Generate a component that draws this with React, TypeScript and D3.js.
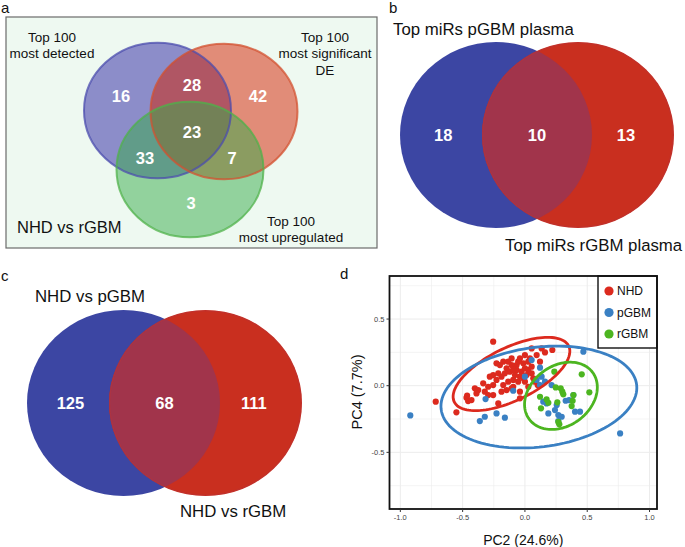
import React from "react";
import * as d3 from "d3";

// ---------- Panel a data ----------
const vennASetLabels: string[][] = [
  ["Top 100", "most detected"],
  ["Top 100", "most significant", "DE"],
  ["Top 100", "most upregulated"],
];
const vennATitle = "NHD vs rGBM";
// region counts: onlyA, onlyB, onlyC, AB, AC, BC, ABC
const vennACounts = [16, 42, 3, 28, 33, 7, 23];

// ---------- Panel b data ----------
const vennBSetLabels = ["Top miRs pGBM plasma", "Top miRs rGBM plasma"];
const vennBCounts = [18, 10, 13];

// ---------- Panel c data ----------
const vennCSetLabels = ["NHD vs pGBM", "NHD vs rGBM"];
const vennCCounts = [125, 68, 111];

// ---------- Panel d data (PCA) ----------
const groups = ["NHD", "pGBM", "rGBM"];
const groupColors = ["#dc2a1e", "#3a80c3", "#4cb520"];
const xTicks = [-1.0, -0.5, 0.0, 0.5, 1.0];
const yTicks = [-0.5, 0.0, 0.5];
const xLabel = "PC2 (24.6%)";
const yLabel = "PC4 (7.7%)";

const nhdPoints: [number, number][] = [
  [-0.716, -0.12], [-0.55, -0.2], [-0.469, -0.09], [-0.456, -0.115], [-0.464, -0.075],
  [-0.402, -0.02], [-0.375, -0.033], [-0.389, -0.058], [-0.335, 0.018], [-0.322, -0.045],
  [-0.295, -0.07], [-0.255, -0.07], [-0.255, 0.005], [-0.282, 0.068], [-0.255, 0.08],
  [-0.214, 0.093], [-0.188, 0.068], [-0.214, -0.133], [-0.255, 0.33], [-0.228, 0.168],
  [-0.174, 0.18], [-0.107, 0.205], [-0.04, 0.205], [-0.013, 0.168], [0.027, 0.18],
  [-0.067, 0.155], [-0.147, 0.13], [-0.121, 0.105], [-0.067, 0.118], [-0.027, 0.105],
  [0.0, 0.13], [0.027, 0.118], [-0.08, 0.08], [-0.04, 0.068], [-0.013, 0.055],
  [0.013, 0.08], [0.054, 0.093], [-0.094, 0.043], [-0.054, 0.03], [0.0, 0.03],
  [0.067, 0.055], [-0.188, -0.045], [-0.174, 0.005], [-0.134, 0.03], [-0.429, -0.108],
  [-0.094, -0.008], [-0.04, -0.045], [-0.04, -0.095], [0.027, -0.008], [0.054, 0.143],
  [0.094, 0.23], [0.121, 0.18], [0.08, 0.03], [0.102, 0.005], [0.0, 0.23],
  [0.054, 0.28], [0.134, 0.28], [0.161, 0.25], [0.22, 0.268], [-0.134, 0.18],
  [-0.201, 0.155], [-0.161, 0.093], [-0.107, 0.155], [-0.054, 0.18], [-0.228, 0.043],
  [-0.295, -0.008], [-0.107, -0.02], [-0.147, -0.033], [0.04, 0.205], [-0.094, 0.118],
];
const pgbmPoints: [number, number][] = [
  [-0.92, -0.223], [-0.362, -0.265], [-0.322, -0.233], [-0.316, -0.1], [-0.228, -0.208],
  [-0.161, -0.24], [-0.094, -0.038], [0.0, 0.068], [0.054, 0.193], [0.121, 0.135],
  [0.134, 0.068], [0.094, 0.043], [0.121, 0.005], [0.161, 0.03], [0.188, -0.208],
  [0.147, -0.12], [0.174, -0.133], [0.255, -0.145], [0.241, -0.183], [0.268, -0.22],
  [0.295, -0.233], [0.268, -0.265], [0.327, -0.113], [0.354, -0.108], [0.389, -0.07],
  [0.402, -0.195], [0.442, -0.195], [0.469, 0.255], [0.764, -0.358], [0.214, 0.005],
];
const rgbmPoints: [number, number][] = [
  [0.236, 0.105], [0.456, 0.085], [0.517, -0.05], [0.247, -0.013], [0.287, -0.02],
  [0.3, -0.045], [0.308, -0.065], [0.121, -0.083], [0.129, -0.17], [0.188, -0.128],
  [0.26, -0.125], [0.383, -0.113], [0.375, -0.153], [0.276, -0.29], [0.268, -0.272],
  [0.174, -0.103], [0.389, -0.07],
];
// confidence ellipses: [cx, cy, semi-major, semi-minor, angle(deg)]
const ellipses: [number, number, number, number, number][] = [
  [-0.108, 0.088, 0.505, 0.2, 24],
  [0.112, -0.085, 0.79, 0.374, 6.5],
  [0.289, -0.076, 0.31, 0.23, 30],
];

const FONT = "'Liberation Sans', Arial, Helvetica, sans-serif";

function ellipsePath(
  e: [number, number, number, number, number],
  x: d3.ScaleLinear<number, number>,
  y: d3.ScaleLinear<number, number>
) {
  const [cx, cy, a, b, ang] = e;
  const phi = (ang * Math.PI) / 180;
  const pts: [number, number][] = d3.range(0, 121).map((i) => {
    const t = (i / 120) * Math.PI * 2;
    const dx = a * Math.cos(t);
    const dy = b * Math.sin(t);
    return [x(cx + dx * Math.cos(phi) - dy * Math.sin(phi)), y(cy + dx * Math.sin(phi) + dy * Math.cos(phi))];
  });
  return d3.line()(pts) + "Z";
}

function TwoSetVenn({
  cx1, cx2, cy, rx, ry, labels, counts, idp, labelPos,
}: {
  cx1: number; cx2: number; cy: number; rx: number; ry: number;
  labels: string[]; counts: number[]; idp: string;
  labelPos: [number, number][];
}) {
  const blue = "#3c46a3";
  const red = "#c92f1f";
  const overlap = "#a1344b";
  const lx = [cx1 - rx * 0.55, (cx1 + cx2) / 2, cx2 + rx * 0.5];
  return (
    <g>
      <defs>
        <clipPath id={`clip-${idp}`}>
          <ellipse cx={cx2} cy={cy} rx={rx} ry={ry} />
        </clipPath>
      </defs>
      <ellipse cx={cx1} cy={cy} rx={rx} ry={ry} fill={blue} />
      <ellipse cx={cx2} cy={cy} rx={rx} ry={ry} fill={red} />
      <ellipse cx={cx1} cy={cy} rx={rx} ry={ry} fill={overlap} clipPath={`url(#clip-${idp})`} />
      <ellipse cx={cx2} cy={cy} rx={rx - 0.8} ry={ry - 0.8} fill="none" stroke="#b8343a" strokeWidth={1} clipPath={`url(#clip-${idp})`} opacity={0.6} />
      {counts.map((c, i) => (
        <text key={i} x={lx[i]} y={cy} dy="0.36em" textAnchor="middle" fill="#fff" fontWeight="bold" fontSize={16.5} fontFamily={FONT}>
          {c}
        </text>
      ))}
      {labels.map((l, i) => (
        <text key={l} x={labelPos[i][0]} y={labelPos[i][1]} fontSize={16.8} fontFamily={FONT} fill="#111">
          {l}
        </text>
      ))}
    </g>
  );
}

export default function App() {
  // ---------- panel d scales ----------
  const x = d3.scaleLinear().domain([-1.087, 1.06]).range([389.5, 657]);
  const y = d3.scaleLinear().domain([-0.925, 0.823]).range([509, 276]);
  const [x0, x1] = x.range();
  const [y0, y1] = y.range();
  const minorX = d3.range(-1.0, 1.01, 0.25);
  const minorY = d3.range(-0.75, 0.76, 0.25);
  const allPts = [nhdPoints, pgbmPoints, rgbmPoints];

  // ---------- panel a layout ----------
  const aCircles = [
    { cx: 157.5, cy: 110.5, fill: "#2a22a2", stroke: "#4b4cae" },
    { cx: 224, cy: 111.5, fill: "#d42000", stroke: "#d3502f" },
    { cx: 190, cy: 169.5, fill: "#36ac4a", stroke: "#4fb24a" },
  ];
  const aRx = 73.5;
  const aRy = 67.8;
  const aCountPos: [number, number][] = [
    [121, 96], [258, 96], [191, 203], [192, 85], [145, 158], [232, 158], [192, 132],
  ];
  const aLabelPos: { x: number; y: number }[] = [
    { x: 52, y: 37 },
    { x: 325, y: 37 },
    { x: 291, y: 221 },
  ];

  return (
    <svg width={685} height={547} style={{ position: "absolute", left: 0, top: 0, background: "#fff" }} fontFamily={FONT}>
      <rect x={0} y={0} width={685} height={547} fill="#fff" />
      {/* Panel letters */}
      <text x={1} y={13} fontSize={15} fontFamily={FONT} fill="#111">a</text>
      <text x={389} y={13} fontSize={15} fontFamily={FONT} fill="#111">b</text>
      <text x={1} y={281} fontSize={15} fontFamily={FONT} fill="#111">c</text>
      <text x={340} y={279} fontSize={15} fontFamily={FONT} fill="#111">d</text>

      {/* ---------- Panel a ---------- */}
      <rect x={6} y={17} width={371} height={231} fill="#eef9f1" stroke="#6b6b6b" strokeWidth={1.2} />
      {aCircles.map((c, i) => (
        <ellipse key={"f" + i} cx={c.cx} cy={c.cy} rx={aRx} ry={aRy} fill={c.fill} fillOpacity={0.5} />
      ))}
      {aCircles.map((c, i) => (
        <ellipse key={"s" + i} cx={c.cx} cy={c.cy} rx={aRx} ry={aRy} fill="none" stroke={c.stroke} strokeOpacity={0.75} strokeWidth={2} />
      ))}
      {vennACounts.map((c, i) => (
        <text key={i} x={aCountPos[i][0]} y={aCountPos[i][1]} dy="0.36em" textAnchor="middle" fill="#fff" fontWeight="bold" fontSize={16.5} fontFamily={FONT}>
          {c}
        </text>
      ))}
      {vennASetLabels.map((lines, i) => (
        <text key={i} textAnchor="middle" fontSize={13.5} fontFamily={FONT} fill="#111">
          {lines.map((l, j) => (
            <tspan key={j} x={aLabelPos[i].x} y={aLabelPos[i].y + j * 16.5} dy="0.36em">
              {l}
            </tspan>
          ))}
        </text>
      ))}
      <text x={17} y={227} dy="0.36em" fontSize={16.5} fontFamily={FONT} fill="#111">{vennATitle}</text>

      {/* ---------- Panel b ---------- */}
      <TwoSetVenn cx1={496} cx2={578} cy={135} rx={96} ry={93} labels={vennBSetLabels} counts={vennBCounts} idp="b"
        labelPos={[[393, 35], [505, 251]]} />

      {/* ---------- Panel c ---------- */}
      <TwoSetVenn cx1={123.5} cx2={205.5} cy={403} rx={96.5} ry={93} labels={vennCSetLabels} counts={vennCCounts} idp="c"
        labelPos={[[35, 302], [180, 517]]} />

      {/* ---------- Panel d ---------- */}
      <rect x={x0} y={y1} width={x1 - x0} height={y0 - y1} fill="#fff" />
      {minorX.map((v) => (
        <line key={"gx" + v} x1={x(v)} x2={x(v)} y1={y1} y2={y0} stroke="#ececec" strokeWidth={Math.abs(v * 2 - Math.round(v * 2)) < 1e-6 ? 1 : 0.6} />
      ))}
      {minorY.map((v) => (
        <line key={"gy" + v} y1={y(v)} y2={y(v)} x1={x0} x2={x1} stroke="#ececec" strokeWidth={Math.abs(v * 2 - Math.round(v * 2)) < 1e-6 ? 1 : 0.6} />
      ))}
      {allPts.map((pts, gi) =>
        pts.map((p, i) => (
          <circle key={gi + "-" + i} cx={x(p[0])} cy={y(p[1])} r={3.1} fill={groupColors[gi]} />
        ))
      )}
      {ellipses.map((e, i) => (
        <path key={"el" + i} d={ellipsePath(e, x, y)} fill="none" stroke={groupColors[i]} strokeWidth={2.8} />
      ))}
      {/* legend */}
      <rect x={598} y={y1} width={x1 - 598} height={72} fill="#fff" stroke="#111" strokeWidth={1.4} />
      {groups.map((g, i) => (
        <g key={g}>
          <circle cx={609} cy={291 + i * 21.5} r={4.6} fill={groupColors[i]} />
          <text x={617} y={291 + i * 21.5} dy="0.36em" fontSize={12} fontFamily={FONT} fill="#111">{g}</text>
        </g>
      ))}
      <rect x={x0} y={y1} width={x1 - x0} height={y0 - y1} fill="none" stroke="#111" strokeWidth={1.8} />
      {/* axes ticks */}
      {xTicks.map((t) => (
        <g key={"xt" + t}>
          <line x1={x(t)} x2={x(t)} y1={y0} y2={y0 + 3} stroke="#333" strokeWidth={1} />
          <text x={x(t)} y={y0 + 11} textAnchor="middle" fontSize={7.5} fontFamily={FONT} fill="#444">
            {d3.format(".1f")(t).replace("−", "-")}
          </text>
        </g>
      ))}
      {yTicks.map((t) => (
        <g key={"yt" + t}>
          <line x1={x0 - 3} x2={x0} y1={y(t)} y2={y(t)} stroke="#333" strokeWidth={1} />
          <text x={x0 - 5} y={y(t)} dy="0.35em" textAnchor="end" fontSize={7.5} fontFamily={FONT} fill="#444">
            {d3.format(".1f")(t).replace("−", "-")}
          </text>
        </g>
      ))}
      <text x={(x0 + x1) / 2} y={540} dy="0.35em" textAnchor="middle" fontSize={14} fontFamily={FONT} fill="#111">{xLabel}</text>
      <text transform={`translate(357,392) rotate(-90)`} dy="0.35em" textAnchor="middle" fontSize={14.5} fontFamily={FONT} fill="#111">{yLabel}</text>
    </svg>
  );
}
